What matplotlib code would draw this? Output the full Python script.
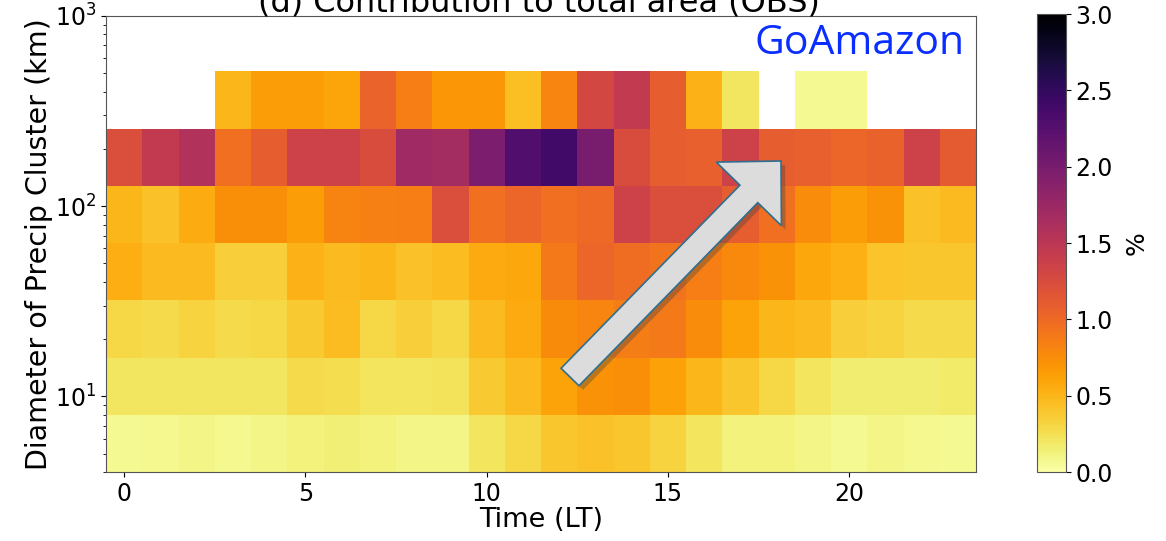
import numpy as np
import matplotlib
matplotlib.use("Agg")
import matplotlib.pyplot as plt
from matplotlib.patches import FancyArrow
import matplotlib.patheffects as pe

# ---- data ----
hours = np.arange(24)
diam_edges = [4, 8, 16, 32, 64, 128, 256, 512]
nan = np.nan
row_4_8 = [0.06, 0.08, 0.10, 0.08, 0.10, 0.12, 0.15, 0.12, 0.10, 0.10, 0.22, 0.30,
           0.40, 0.43, 0.41, 0.32, 0.22, 0.12, 0.12, 0.10, 0.07, 0.10, 0.08, 0.07]
row_8_16 = [0.20, 0.21, 0.20, 0.20, 0.20, 0.28, 0.26, 0.22, 0.22, 0.23, 0.38, 0.47,
            0.62, 0.72, 0.74, 0.63, 0.50, 0.40, 0.30, 0.22, 0.16, 0.16, 0.16, 0.18]
row_16_32 = [0.30, 0.28, 0.32, 0.28, 0.30, 0.38, 0.46, 0.30, 0.35, 0.30, 0.48, 0.57,
             0.77, 0.80, 0.86, 0.88, 0.75, 0.62, 0.50, 0.47, 0.35, 0.32, 0.28, 0.27]
row_32_64 = [0.55, 0.47, 0.47, 0.35, 0.35, 0.52, 0.48, 0.50, 0.43, 0.46, 0.57, 0.58,
             0.88, 1.03, 0.98, 0.93, 0.85, 0.78, 0.72, 0.58, 0.53, 0.42, 0.40, 0.40]
row_64_128 = [0.50, 0.43, 0.56, 0.74, 0.74, 0.65, 0.82, 0.84, 0.85, 1.23, 0.95, 1.02,
              0.95, 1.00, 1.35, 1.23, 1.23, 1.10, 0.95, 0.75, 0.65, 0.72, 0.43, 0.48]
row_128_256 = [1.22, 1.45, 1.58, 0.95, 1.10, 1.35, 1.35, 1.25, 1.70, 1.68, 1.98, 2.28,
               2.40, 2.00, 1.25, 1.10, 1.07, 1.35, 1.10, 1.07, 1.02, 1.06, 1.35, 1.12]
row_256_512 = [nan, nan, nan, 0.50, 0.65, 0.65, 0.60, 1.05, 0.85, 0.70, 0.70, 0.45,
               0.80, 1.30, 1.45, 1.10, 0.52, 0.20, nan, 0.06, 0.06, nan, nan, nan]

values = np.ma.masked_invalid(np.array([row_4_8, row_8_16, row_16_32, row_32_64,
                                        row_64_128, row_128_256, row_256_512]))
time_edges = np.append(hours - 0.5, hours[-1] + 0.5)

W, H = 1166, 541
fig = plt.figure(figsize=(W / 100, H / 100), dpi=100)
ax = fig.add_axes([106 / W, (H - 472) / H, (976 - 106) / W, (472 - 16) / H])
cax = fig.add_axes([1037 / W, (H - 472) / H, 29 / W, (472 - 14) / H])

mesh = ax.pcolormesh(time_edges, diam_edges, values, cmap="inferno_r", vmin=0, vmax=3)
ax.set_yscale("log")
ax.set_ylim(4, 1000)
ax.set_xlim(-0.5, 23.5)
ax.set_xticks([0, 5, 10, 15, 20])
ax.tick_params(labelsize=17)
ax.set_xlabel("Time (LT)", fontsize=19.5, labelpad=1)
ax.set_ylabel("Diameter of Precip Cluster (km)", fontsize=20.5, labelpad=1)
for s in ax.spines.values():
    s.set_color("#555555")

cb = fig.colorbar(mesh, cax=cax, ticks=[0, 0.5, 1.0, 1.5, 2.0, 2.5, 3.0])
cb.ax.set_yticklabels(["0.0", "0.5", "1.0", "1.5", "2.0", "2.5", "3.0"])
cb.ax.tick_params(labelsize=17)
cb.set_label("%", fontsize=18, labelpad=8)
cb.outline.set_edgecolor("#555555")

fig.text(539 / W, (H - 11) / H, "(d) Contribution to total area (OBS)",
         fontsize=23, ha="center", va="baseline")

ax.text(0.987, 0.94, "GoAmazon", transform=ax.transAxes, ha="right", va="center",
        fontsize=29.5, color="#0a2eff", family="Open Sans")

# decorative arrow (pixel geometry in inches from top-left)
x0, y0 = 570 / 100, (H - 377) / 100
x1, y1 = 781 / 100, (H - 161) / 100
arr = FancyArrow(x0, y0, x1 - x0, y1 - y0, width=0.25, head_width=0.91,
                 head_length=0.46, length_includes_head=True,
                 transform=fig.dpi_scale_trans, facecolor="#dcdcdc",
                 edgecolor="#2f6f8f", linewidth=1.2, zorder=10,
                 path_effects=[pe.SimplePatchShadow(offset=(3, -3), alpha=0.35),
                               pe.Normal()])
fig.patches.append(arr)

fig.savefig("out.png", dpi=100)
